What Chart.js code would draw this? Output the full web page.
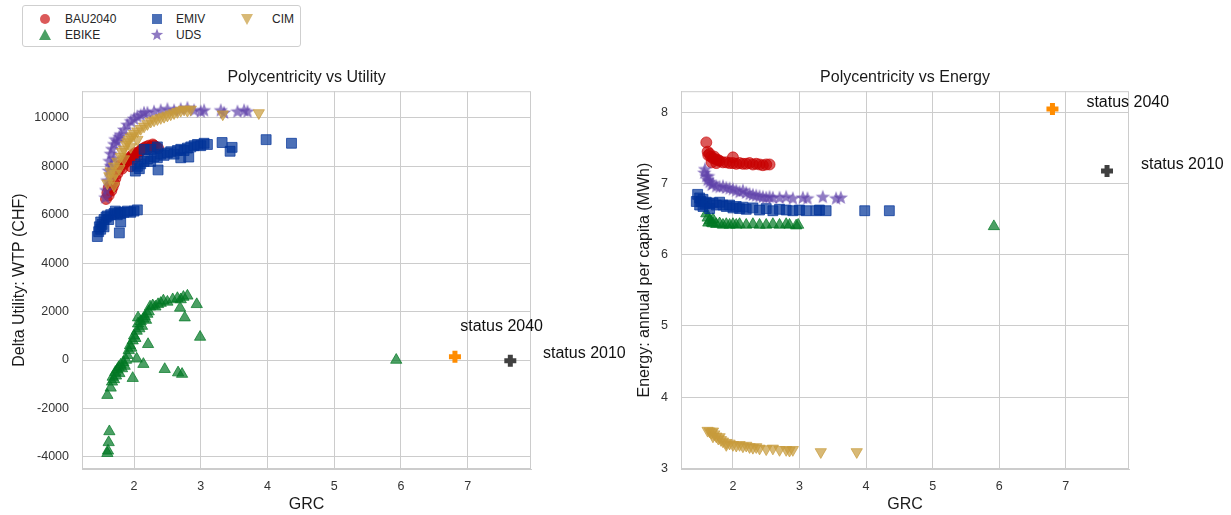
<!DOCTYPE html>
<html>
<head>
<meta charset="utf-8">
<script src="https://cdn.jsdelivr.net/npm/chart.js@4.4.1/dist/chart.umd.min.js"></script>
<style>
  html, body { margin: 0; padding: 0; background: #fff; }
  body { width: 1231px; height: 515px; position: relative; overflow: hidden; font-family: "Liberation Sans", Arial, sans-serif; }
  #utilityChart { position: absolute; left: 0; top: 0; }
  #energyChart { position: absolute; left: 630px; top: 0; }
  #legend { position: absolute; left: 22px; top: 5px; width: 277px; height: 40px; border: 1px solid #cfcfcf; border-radius: 3px; background: #fff; }
  #legend canvas { position: absolute; }
  #legend span { position: absolute; font-size: 12px; line-height: 14px; color: #262626; }
</style>
</head>
<body>
<canvas id="utilityChart" width="630" height="515"></canvas>
<canvas id="energyChart" width="601" height="515"></canvas>
<div id="legend"></div>
<script>
// tick labels
const grcTicks = [2, 3, 4, 5, 6, 7];
const utilityTicks = [-4000, -2000, 0, 2000, 4000, 6000, 8000, 10000];
const energyTicks = [3, 4, 5, 6, 7, 8];

// GRC vs delta utility (CHF)
const bauUtility = [[1.58,6650],[1.6,6900],[1.62,7100],[1.65,7200],[1.68,7150],[1.7,7300],[1.72,7500],[1.75,7700],[1.78,7900],[1.8,8050],[1.82,7900],[1.85,8100],[1.88,8200],[1.9,8300],[1.92,8250],[1.95,8400],[1.98,8450],[2.0,8500],[2.02,8550],[2.05,8400],[2.08,8600],[2.1,8650],[2.12,8700],[2.15,8750],[2.18,8800],[2.2,8700],[2.22,8850],[2.25,8800],[2.28,8900],[2.3,8850],[2.33,8800],[2.36,8750],[1.62,6800],[1.66,7000],[2.0,8300],[1.95,8000]];
const ebikeUtility = [[1.6,-3850],[1.61,-3750],[1.62,-3400],[1.63,-2950],[1.6,-1450],[1.65,-1150],[1.67,-900],[1.68,-700],[1.7,-800],[1.72,-500],[1.73,-650],[1.75,-400],[1.77,-300],[1.78,-550],[1.8,-200],[1.82,-350],[1.84,-100],[1.86,-250],[1.88,0],[1.9,200],[1.92,400],[1.94,600],[1.96,500],[1.98,800],[2.0,1000],[2.02,900],[2.04,1200],[2.06,1500],[2.08,1300],[2.1,1600],[2.12,1400],[2.14,1700],[2.16,1800],[2.18,1650],[2.2,1900],[2.22,2000],[2.24,2200],[2.28,2250],[2.32,2200],[2.36,2300],[2.4,2350],[2.44,2450],[2.5,2400],[2.58,2500],[2.65,2550],[2.7,2500],[2.74,2600],[2.8,2650],[2.94,2300],[2.76,1750],[2.69,2150],[2.99,950],[2.46,-380],[2.66,-520],[2.72,-580],[2.14,-170],[1.98,-750],[2.04,50],[2.21,650],[5.93,0],[2.06,1750]];
const emivUtility = [[1.45,5100],[1.47,5300],[1.48,5500],[1.5,5700],[1.52,5600],[1.55,5800],[1.58,5900],[1.6,5950],[1.62,5800],[1.65,6000],[1.7,6050],[1.72,6150],[1.75,6000],[1.78,6100],[1.8,6050],[1.85,6100],[1.9,6150],[1.95,6100],[2.0,6150],[2.05,6200],[1.8,5700],[1.78,5250],[1.5,5400],[1.55,5500],[2.02,7800],[2.05,8000],[2.08,7900],[2.1,8100],[2.15,8200],[2.2,8300],[2.25,8200],[2.3,8400],[2.35,8350],[2.4,8500],[2.45,8450],[2.5,8550],[2.55,8600],[2.6,8500],[2.65,8650],[2.7,8700],[2.75,8650],[2.8,8750],[2.85,8800],[2.9,8850],[2.95,8900],[3.0,8850],[3.05,8950],[3.1,8900],[2.36,7850],[2.7,8350],[2.82,8380],[2.25,8700],[2.35,8800],[2.15,8700],[3.32,8980],[3.47,8780],[3.44,8620],[3.98,9100],[4.36,8950]];
const udsUtility = [[1.57,6700],[1.58,7000],[1.6,7400],[1.62,7800],[1.63,8200],[1.65,8500],[1.67,8700],[1.7,8900],[1.72,9100],[1.75,9000],[1.78,9200],[1.8,9300],[1.85,9500],[1.9,9700],[1.95,9850],[2.0,9950],[2.05,10050],[2.1,10100],[2.15,10200],[2.2,10200],[2.3,10250],[2.4,10300],[2.5,10350],[2.6,10300],[2.7,10350],[2.8,10400],[2.9,10300],[3.0,10250],[3.05,10300],[3.3,10300],[3.35,10200],[3.55,10250],[3.65,10300],[3.7,10250],[1.65,8000],[1.7,8300]];
const cimUtility = [[1.6,7300],[1.63,7600],[1.65,7800],[1.68,7500],[1.7,8000],[1.72,7700],[1.75,8200],[1.78,7900],[1.8,8400],[1.82,8600],[1.85,8700],[1.88,8900],[1.9,9000],[1.92,9100],[1.95,9200],[1.98,9250],[2.0,9350],[2.05,9450],[2.1,9550],[2.15,9650],[2.2,9750],[2.25,9850],[2.3,9900],[2.35,9950],[2.4,10000],[2.45,10050],[2.5,10100],[2.55,10150],[2.6,10200],[2.65,10250],[2.7,10300],[2.75,10350],[2.8,10300],[2.85,10350],[3.33,10150],[3.87,10200],[1.85,8300],[1.95,8800],[2.05,9100],[1.7,7200]];
const status2040Utility = [[6.81,130]];
const status2010Utility = [[7.64,-30]];

// GRC vs energy, annual per capita (MWh)
const bauEnergy = [[1.6,7.58],[1.62,7.45],[1.63,7.4],[1.65,7.42],[1.67,7.38],[1.7,7.36],[1.72,7.38],[1.75,7.34],[1.78,7.33],[1.8,7.32],[1.85,7.3],[1.9,7.3],[1.95,7.29],[2.0,7.37],[2.0,7.29],[2.05,7.28],[2.1,7.29],[2.15,7.28],[2.2,7.28],[2.25,7.29],[2.3,7.27],[2.35,7.28],[2.4,7.27],[2.45,7.26],[2.5,7.27],[2.55,7.27],[1.68,7.3],[1.75,7.29]];
const ebikeEnergy = [[1.6,6.58],[1.62,6.52],[1.65,6.48],[1.68,6.45],[1.7,6.44],[1.75,6.43],[1.8,6.44],[1.85,6.42],[1.9,6.43],[1.95,6.42],[2.0,6.43],[2.05,6.42],[2.1,6.43],[2.2,6.42],[2.3,6.43],[2.4,6.42],[2.5,6.42],[2.6,6.43],[2.7,6.42],[2.8,6.43],[2.85,6.42],[2.95,6.41],[2.98,6.42],[5.92,6.4],[1.63,6.45],[1.7,6.5]];
const emivEnergy = [[1.45,6.75],[1.47,6.85],[1.5,6.8],[1.5,6.7],[1.52,6.75],[1.55,6.78],[1.58,6.72],[1.6,6.74],[1.65,6.72],[1.7,6.73],[1.75,6.7],[1.8,6.74],[1.85,6.7],[1.9,6.68],[1.95,6.7],[2.0,6.66],[2.05,6.68],[2.1,6.65],[2.15,6.67],[2.2,6.64],[2.3,6.66],[2.4,6.63],[2.5,6.65],[2.6,6.62],[2.7,6.64],[2.8,6.63],[2.9,6.62],[3.0,6.63],[3.1,6.62],[3.25,6.62],[3.3,6.63],[3.4,6.62],[3.98,6.62],[4.35,6.62],[1.55,6.68],[1.65,6.65]];
const udsEnergy = [[1.57,7.15],[1.6,7.1],[1.62,7.05],[1.65,7.02],[1.68,6.98],[1.7,7.0],[1.75,6.96],[1.8,6.95],[1.85,6.96],[1.9,6.94],[1.95,6.93],[2.0,6.92],[2.05,6.9],[2.1,6.88],[2.15,6.9],[2.2,6.87],[2.25,6.85],[2.3,6.84],[2.35,6.83],[2.4,6.82],[2.45,6.81],[2.5,6.8],[2.55,6.81],[2.6,6.8],[2.7,6.8],[2.8,6.81],[2.9,6.79],[3.05,6.8],[3.12,6.79],[3.35,6.81],[3.55,6.79],[3.62,6.8],[1.63,7.1],[1.58,7.2]];
const cimEnergy = [[1.62,3.53],[1.65,3.52],[1.68,3.5],[1.7,3.52],[1.72,3.48],[1.75,3.45],[1.78,3.42],[1.8,3.44],[1.82,3.4],[1.85,3.38],[1.9,3.36],[1.95,3.35],[2.0,3.33],[2.05,3.32],[2.1,3.33],[2.15,3.31],[2.2,3.32],[2.25,3.3],[2.3,3.29],[2.35,3.3],[2.4,3.28],[2.5,3.27],[2.6,3.28],[2.7,3.26],[2.8,3.26],[2.85,3.25],[2.9,3.26],[3.32,3.23],[3.86,3.23],[1.7,3.45],[1.9,3.33]];
const status2040Energy = [[6.8,8.05]];
const status2010Energy = [[7.62,7.18]];

const scenarioNames = ['BAU2040', 'EBIKE', 'EMIV', 'UDS', 'CIM'];
const scenarioColors = ['rgba(200,0,0,0.65)', 'rgba(0,120,35,0.7)', 'rgba(0,51,153,0.7)', 'rgba(95,65,170,0.7)', 'rgba(200,155,60,0.7)'];
const scenarioShapes = ['circle', 'triangle', 'rect', 'star', 'down'];

Chart.defaults.font.family = '"Liberation Sans", Arial, sans-serif';
Chart.defaults.color = '#262626';

function markerCanvas(shape, color, size) {
  const c = document.createElement('canvas');
  c.width = size; c.height = size;
  const g = c.getContext('2d');
  const m = size / 2;
  g.fillStyle = color;
  g.beginPath();
  if (shape === 'circle') {
    g.arc(m, m, m - 2, 0, Math.PI * 2);
  } else if (shape === 'rect') {
    g.rect(2, 2, size - 4, size - 4);
  } else if (shape === 'triangle') {
    g.moveTo(m, 1); g.lineTo(size - 1, size - 2); g.lineTo(1, size - 2);
  } else if (shape === 'down') {
    g.moveTo(1, 2); g.lineTo(size - 1, 2); g.lineTo(m, size - 1);
  } else if (shape === 'star') {
    const ro = m - 0.5, ri = ro * 0.42;
    for (let i = 0; i < 10; i++) {
      const r = i % 2 ? ri : ro;
      const a = -Math.PI / 2 + i * Math.PI / 5;
      g.lineTo(m + r * Math.cos(a), m + r * Math.sin(a));
    }
  }
  g.closePath();
  g.fill();
  return c;
}

function toPoints(arr) {
  return arr.map(p => ({x: p[0], y: p[1]}));
}

function scenarioDataset(i, arr) {
  const color = scenarioColors[i];
  const ds = {
    label: scenarioNames[i],
    data: toPoints(arr),
    backgroundColor: color,
    borderColor: color,
    borderWidth: 1,
    pointRadius: 5,
    order: 10 - i
  };
  const shape = scenarioShapes[i];
  if (shape === 'circle') { ds.pointStyle = 'circle'; ds.pointRadius = 5.5; }
  if (shape === 'rect') { ds.pointStyle = 'rect'; ds.pointRadius = 7; }
  if (shape === 'triangle') { ds.pointStyle = 'triangle'; ds.pointRadius = 6.5; }
  if (shape === 'down') { ds.pointStyle = 'triangle'; ds.pointRadius = 6.5; ds.rotation = 180; }
  if (shape === 'star') { ds.pointStyle = markerCanvas('star', color, 16); }
  return ds;
}

function statusDataset(label, arr, color) {
  return {
    label: label,
    data: toPoints(arr),
    pointStyle: 'cross',
    pointRadius: 6,
    borderWidth: 5,
    borderColor: color,
    backgroundColor: color,
    order: 0
  };
}

const frame = {
  id: 'frame',
  beforeDatasetsDraw(chart) {
    const {ctx, chartArea: a} = chart;
    ctx.save();
    ctx.strokeStyle = '#cccccc';
    ctx.lineWidth = 1;
    ctx.strokeRect(a.left + 0.5, a.top + 0.5, a.right - a.left - 1, a.bottom - a.top - 1);
    ctx.restore();
  }
};

const statusText = {
  id: 'statusText',
  afterDatasetsDraw(chart, args, opts) {
    const {ctx, scales: {x, y}} = chart;
    ctx.save();
    ctx.font = '16px "Liberation Sans", Arial, sans-serif';
    ctx.fillStyle = '#111';
    ctx.textBaseline = 'middle';
    ctx.textAlign = 'left';
    opts.labels.forEach(l => ctx.fillText(l.text, x.getPixelForValue(l.x), y.getPixelForValue(l.y)));
    ctx.restore();
  }
};

function fixedTicks(values) {
  return s => { s.ticks = values.map(v => ({value: v})); };
}

function makeOptions(cfg) {
  return {
    responsive: false,
    animation: false,
    layout: { padding: { left: 0, right: cfg.padRight, top: 0, bottom: 0 } },
    plugins: {
      legend: { display: false },
      tooltip: { enabled: false },
      title: {
        display: true,
        text: cfg.title,
        fullSize: false,
        font: { size: 16, weight: 'normal' },
        color: '#1a1a1a',
        padding: { top: 68, bottom: 4 }
      },
      statusText: { labels: cfg.labels }
    },
    scales: {
      x: {
        type: 'linear',
        min: 1.22,
        max: 7.95,
        afterBuildTicks: fixedTicks(grcTicks),
        afterFit: s => { s.height = 46; },
        ticks: { padding: 10, font: { size: 12.5 }, color: '#333' },
        grid: { color: '#cccccc', drawTicks: false },
        border: { color: '#cccccc' },
        title: { display: true, text: 'GRC', font: { size: 16 }, color: '#1a1a1a', padding: { top: 0, bottom: 1 } }
      },
      y: {
        type: 'linear',
        min: cfg.yMin,
        max: cfg.yMax,
        afterBuildTicks: fixedTicks(cfg.yTicks),
        afterFit: s => { s.width = cfg.yWidth; },
        ticks: { padding: 13, font: { size: 12.5 }, color: '#333', callback: v => String(v) },
        grid: { color: '#cccccc', drawTicks: false },
        border: { color: '#cccccc' },
        title: { display: true, text: cfg.yTitle, font: { size: 16 }, color: '#1a1a1a', padding: { top: cfg.yTitlePad, bottom: 0 } }
      }
    }
  };
}

new Chart(document.getElementById('utilityChart'), {
  type: 'scatter',
  data: {
    datasets: [
      scenarioDataset(0, bauUtility),
      scenarioDataset(1, ebikeUtility),
      scenarioDataset(2, emivUtility),
      scenarioDataset(3, udsUtility),
      scenarioDataset(4, cimUtility),
      statusDataset('status 2040', status2040Utility, '#ff8c00'),
      statusDataset('status 2010', status2010Utility, '#404040')
    ]
  },
  options: makeOptions({
    title: 'Polycentricity vs Utility',
    padRight: 99,
    yMin: -4500, yMax: 11100, yTicks: utilityTicks, yWidth: 82, yTitlePad: 10,
    yTitle: 'Delta Utility: WTP (CHF)',
    labels: [
      { text: 'status 2040', x: 6.89, y: 1400 },
      { text: 'status 2010', x: 8.13, y: 250 }
    ]
  }),
  plugins: [frame, statusText]
});

new Chart(document.getElementById('energyChart'), {
  type: 'scatter',
  data: {
    datasets: [
      scenarioDataset(0, bauEnergy),
      scenarioDataset(1, ebikeEnergy),
      scenarioDataset(2, emivEnergy),
      scenarioDataset(3, udsEnergy),
      scenarioDataset(4, cimEnergy),
      statusDataset('status 2040', status2040Energy, '#ff8c00'),
      statusDataset('status 2010', status2010Energy, '#404040')
    ]
  },
  options: makeOptions({
    title: 'Polycentricity vs Energy',
    padRight: 102,
    yMin: 2.99, yMax: 8.3, yTicks: energyTicks, yWidth: 51, yTitlePad: 5,
    yTitle: 'Energy: annual per capita (MWh)',
    labels: [
      { text: 'status 2040', x: 7.31, y: 8.14 },
      { text: 'status 2010', x: 8.13, y: 7.27 }
    ]
  }),
  plugins: [frame, statusText]
});

// legend: three columns, filled column by column
const legend = document.getElementById('legend');
const legendSlots = [[22, 13, 42], [22, 29, 42], [134, 13, 153], [134, 29, 153], [224, 13, 249]];
scenarioNames.forEach((name, i) => {
  const [mx, my, tx] = legendSlots[i];
  const c = markerCanvas(scenarioShapes[i], scenarioColors[i], 14);
  c.style.left = (mx - 7) + 'px';
  c.style.top = (my - 7) + 'px';
  legend.appendChild(c);
  const s = document.createElement('span');
  s.textContent = name;
  s.style.left = tx + 'px';
  s.style.top = (my - 7) + 'px';
  legend.appendChild(s);
});
</script>
</body>
</html>
